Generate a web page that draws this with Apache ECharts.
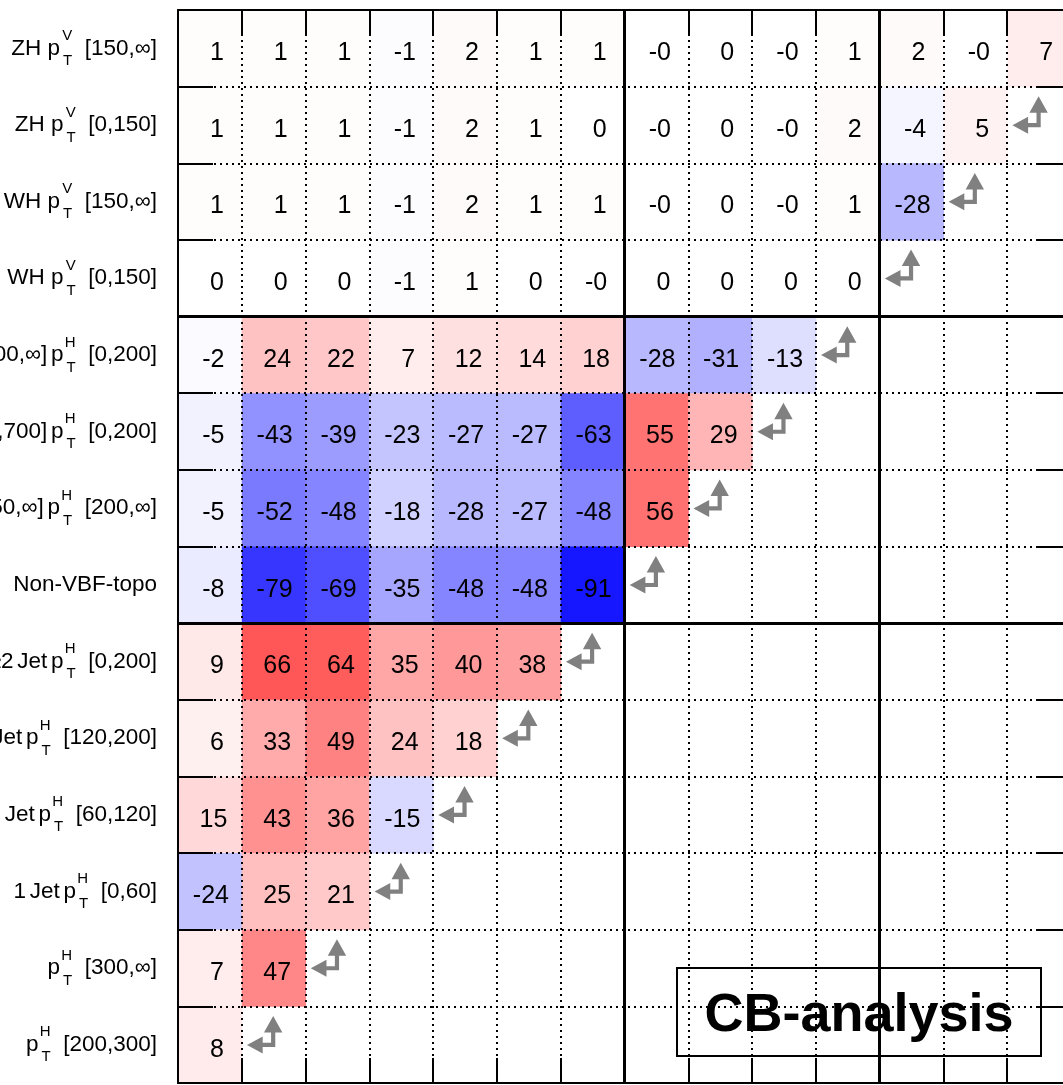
<!DOCTYPE html>
<html><head><meta charset="utf-8">
<script src="https://cdn.jsdelivr.net/npm/echarts@6/dist/echarts.min.js"></script>
<style>html,body{margin:0;padding:0;background:#fff}#c{width:1063px;height:1085px}</style>
</head><body><div id="c"></div>
<script>
// Row labels (top to bottom): prefix, superscript, subscript, suffix
const rowPrefix = ['ZH p', 'ZH p', 'WH p', 'WH p',
  'VBF-topo\u2006mjj\u2006[700,∞]\u2006p', 'VBF-topo\u2006mjj\u2006[350,700]\u2006p', 'VBF-topo\u2006mjj\u2006[350,∞]\u2006p',
  'Non-VBF-topo', '≥2\u2006Jet\u2006p', '1\u2006Jet\u2006p', '1\u2006Jet\u2006p', '1\u2006Jet\u2006p', 'p', 'p'];
const rowSup = ['V', 'V', 'V', 'V', 'H', 'H', 'H', '', 'H', 'H', 'H', 'H', 'H', 'H'];
const rowSub = ['T', 'T', 'T', 'T', 'T', 'T', 'T', '', 'T', 'T', 'T', 'T', 'T', 'T'];
const rowSuffix = ['  [150,∞]', '  [0,150]', '  [150,∞]', '  [0,150]',
  '  [0,200]', '  [0,200]', '  [200,∞]', '', '  [0,200]', '  [120,200]',
  '  [60,120]', '  [0,60]', '  [300,∞]', '  [200,300]'];

// Correlation values (%) per row, left to right
const corrRows = [
  [1, 1, 1, -1, 2, 1, 1, -0, 0, -0, 1, 2, -0, 7],
  [1, 1, 1, -1, 2, 1, 0, -0, 0, -0, 2, -4, 5],
  [1, 1, 1, -1, 2, 1, 1, -0, 0, -0, 1, -28],
  [0, 0, 0, -1, 1, 0, -0, 0, 0, 0, 0],
  [-2, 24, 22, 7, 12, 14, 18, -28, -31, -13],
  [-5, -43, -39, -23, -27, -27, -63, 55, 29],
  [-5, -52, -48, -18, -28, -27, -48, 56],
  [-8, -79, -69, -35, -48, -48, -91],
  [9, 66, 64, 35, 40, 38],
  [6, 33, 49, 24, 18],
  [15, 43, 36, -15],
  [-24, 25, 21],
  [7, 47],
  [8]
];
const nCols = 14;
const nRows = 14;
const colSeparators = [7, 11];
const rowSeparators = [4, 8];

const cellData = [];
const cellText = [];
corrRows.forEach((row, r) => {
  row.forEach((v, c) => {
    cellData.push([c, r, v]);
    cellText.push(Object.is(v, -0) ? '-0' : String(v));
  });
});
// diagonal markers: just right of the last value in each row
const arrowData = [];
corrRows.forEach((row, r) => {
  if (row.length < nCols) arrowData.push([row.length + 0.5, r + 0.5]);
});

const FONT = '"Liberation Sans", Arial, Helvetica, sans-serif';
const arrowPath = 'path://M26.2,0 L35.4,16.5 L28.3,16.5 L28.3,31 L15.7,31 L15.7,37.4 L0,28.9 L15.7,20.4 L15.7,26.8 L24.1,26.8 L24.1,16.5 L17,16.5 Z';

function frameAxis(pos, len, split) {
  return {
    type: 'value', min: 0, max: (pos === 'top' || pos === 'bottom') ? nCols : nRows, interval: 1,
    position: pos, z: 5,
    inverse: (pos === 'left' || pos === 'right'),
    axisLine: { show: true, onZero: false, lineStyle: { color: '#000', width: 2 } },
    axisTick: { show: true, inside: true, length: len, lineStyle: { color: '#000', width: 2 } },
    axisLabel: { show: false },
    splitLine: split ? { show: true, lineStyle: { color: '#000', width: 2, type: [2, 4] } } : { show: false }
  };
}

const chart = echarts.init(document.getElementById('c'), null, { renderer: 'canvas' });
chart.setOption({
  animation: false,
  backgroundColor: '#fff',
  grid: { left: 178, top: 10, right: -8, bottom: 2, containLabel: false, outerBoundsMode: 'none' },
  xAxis: [frameAxis('bottom', 25, true), frameAxis('top', 25, false)],
  yAxis: [frameAxis('left', 35, true), frameAxis('right', 35, false), {
    type: 'category', position: 'left', inverse: true,
    data: rowPrefix.map((p, i) => i),
    axisLine: { show: false }, axisTick: { show: false }, splitLine: { show: false },
    axisLabel: {
      margin: 21,
      formatter: function (val, i) {
        const idx = Number(val);
        if (!rowSup[idx]) return '{m|' + rowPrefix[idx] + '}';
        return '{m|' + rowPrefix[idx] + '}{sub|' + rowSub[idx] + '}{sup|' + rowSup[idx] + '}{m|' + rowSuffix[idx] + '}';
      },
      rich: {
        m: { fontSize: 22.5, fontFamily: FONT, color: '#000', lineHeight: 40, align: 'right', verticalAlign: 'middle' },
        sup: { fontSize: 15, fontFamily: FONT, color: '#000', lineHeight: 17, align: 'right', verticalAlign: 'top', width: 0 },
        sub: { fontSize: 15, fontFamily: FONT, color: '#000', lineHeight: 17, align: 'right', verticalAlign: 'bottom', padding: [0, 0, 0, 3] }
      }
    }
  }],
  visualMap: {
    type: 'continuous', show: false, min: -100, max: 100, dimension: 2, seriesIndex: 0,
    inRange: { color: ['#0000ff', '#ffffff', '#ff0000'] }
  },
  series: [{
    type: 'custom', xAxisIndex: 0, yAxisIndex: 0, z: 2,
    data: cellData,
    renderItem: function (params, api) {
      const c = api.value(0), r = api.value(1);
      const p0 = api.coord([c, r]), p1 = api.coord([c + 1, r + 1]);
      const x = Math.min(p0[0], p1[0]), y = Math.min(p0[1], p1[1]);
      const w = Math.abs(p1[0] - p0[0]), h = Math.abs(p1[1] - p0[1]);
      const txt = cellText[params.dataIndex];
      const dx = txt.length === 1 ? 7 : (txt.length === 2 ? 3.5 : 1);
      return {
        type: 'group', children: [
          { type: 'rect', shape: { x: x, y: y, width: w + 0.5, height: h + 0.5 }, style: { fill: api.visual('color') } },
          { type: 'text', x: x + w / 2 + dx, y: y + h / 2 + 5,
            style: { text: txt, fill: '#000', font: '25px ' + FONT, align: 'center', verticalAlign: 'middle' } }
        ]
      };
    }
  }, {
    type: 'scatter', xAxisIndex: 0, yAxisIndex: 0, z: 6, silent: true,
    data: arrowData,
    symbol: arrowPath, symbolSize: [35.4, 37.4], symbolOffset: [-9, -10],
    itemStyle: { color: '#808080', opacity: 1 },
    markLine: {
      silent: true, symbol: ['none', 'none'], label: { show: false },
      lineStyle: { color: '#000', width: 3, type: 'solid' },
      data: colSeparators.map(v => ({ xAxis: v })).concat(rowSeparators.map(v => ({ yAxis: v })))
    }
  }],
  graphic: [{
    type: 'group', z: 100,
    children: [
      { type: 'rect', shape: { x: 677, y: 968, width: 364, height: 88 }, style: { fill: '#fff', stroke: '#000', lineWidth: 2 } },
      { type: 'text', x: 859, y: 1016, style: { text: 'CB-analysis', fill: '#000', font: 'bold 54px ' + FONT, align: 'center', verticalAlign: 'middle' } }
    ]
  }]
});
</script>
</body></html>
